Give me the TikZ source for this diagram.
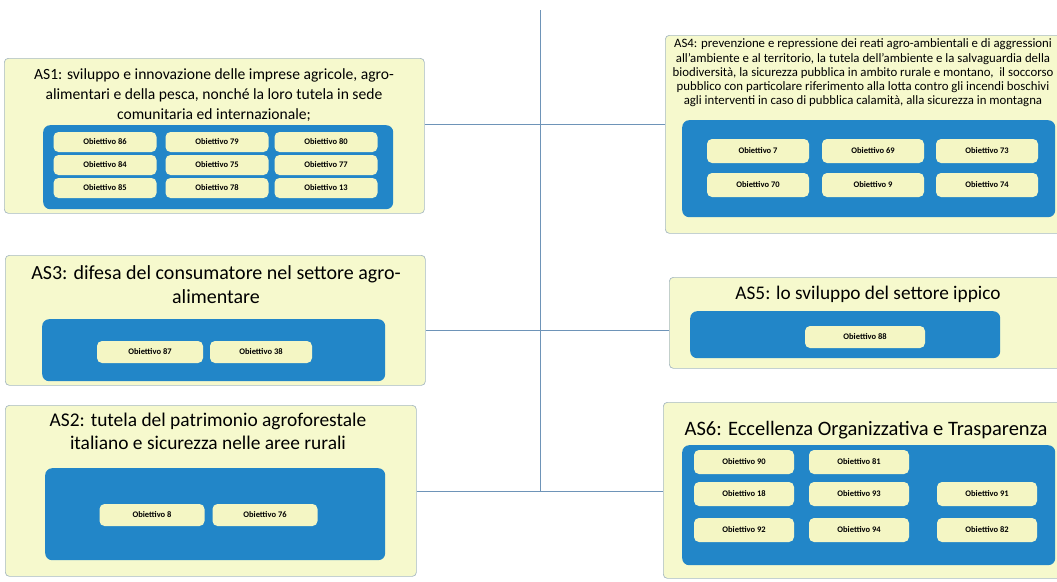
\documentclass[tikz,border=0pt]{standalone}
\usepackage{fontspec}
\setmainfont{Carlito}
\definecolor{boxfill}{HTML}{F6F9CD}
\definecolor{boxline}{HTML}{A7B9C2}
\definecolor{inblue}{HTML}{2286C8}
\definecolor{objfill}{HTML}{F4F6C4}
\definecolor{conn}{HTML}{6E94B8}
\tikzset{
  outer/.style={draw=boxline, fill=boxfill, line width=0.7pt, rounded corners=4pt, anchor=north west, inner sep=0pt},
  inner/.style={fill=inblue, rounded corners=7pt, anchor=north west, inner sep=0pt},
  obj/.style={fill=objfill, rounded corners=5pt, inner sep=0pt, font=\fontsize{8.5}{9}\selectfont\bfseries},
  ttl/.style={align=center, inner sep=0pt},
  link/.style={draw=conn, line width=0.8pt}
}
\begin{document}
\begin{tikzpicture}[x=1pt,y=-1pt]
\useasboundingbox (0,0) rectangle (1057,581);
% central spine
\coordinate (top) at (540,10);
\coordinate (bot) at (540,492);
\draw[link] (top) -- (bot);

% AS1
\node[outer, minimum width=420, minimum height=155] (as1) at (4,58) {};
\node[ttl, font=\fontsize{15.6}{20}\selectfont] (as1t) at (214,95) {AS1: sviluppo e innovazione delle imprese agricole, agro-\\alimentari e della pesca, nonché la loro tutela in sede\\comunitaria ed internazionale;};
\node[inner, minimum width=350, minimum height=84] (as1b) at (43,125) {};
\foreach \c/\r/\t in {105/142/86, 217/142/79, 326/142/80, 105/165/84, 217/165/75, 326/165/77, 105/188/85, 217/188/78, 326/188/13}
  \node[obj, minimum width=103, minimum height=20] (o\t) at (\c,\r) {Obiettivo \t};

% AS3
\node[outer, minimum width=420, minimum height=130] (as3) at (5,255) {};
\node[ttl, font=\fontsize{20}{24}\selectfont] (as3t) at (216,285) {AS3: difesa del consumatore nel settore agro-\\alimentare};
\node[inner, minimum width=343, minimum height=62] (as3b) at (42,319) {};
\node[obj, minimum width=106, minimum height=22] (o87) at (150,352) {Obiettivo 87};
\node[obj, minimum width=102, minimum height=22] (o38) at (261,352) {Obiettivo 38};

% AS2
\node[outer, minimum width=411, minimum height=171] (as2) at (5,405) {};
\node[ttl, font=\fontsize{19.4}{23}\selectfont] (as2t) at (208,431) {AS2: tutela del patrimonio agroforestale\\italiano e sicurezza nelle aree rurali};
\node[inner, minimum width=340, minimum height=92] (as2b) at (45,468) {};
\node[obj, minimum width=105, minimum height=22] (o8) at (152,515) {Obiettivo 8};
\node[obj, minimum width=105, minimum height=22] (o76) at (265,515) {Obiettivo 76};

% AS4
\node[outer, minimum width=397, minimum height=198] (as4) at (665,35) {};
\node[ttl, font=\fontsize{12.8}{14.2}\selectfont] (as4t) at (863,73) {AS4: prevenzione e repressione dei reati agro-ambientali e di aggressioni\\all'ambiente e al territorio, la tutela dell'ambiente e la salvaguardia della\\biodiversità, la sicurezza pubblica in ambito rurale e montano,\ \ il soccorso\\pubblico con particolare riferimento alla lotta contro gli incendi boschivi\\agli interventi in caso di pubblica calamità, alla sicurezza in montagna};
\node[inner, minimum width=373, minimum height=97] (as4b) at (682,120) {};
\foreach \c/\r/\t in {758/151/7, 873/151/69, 987/151/73, 758/185/70, 873/185/9, 987/185/74}
  \node[obj, minimum width=102, minimum height=24] (p\t) at (\c,\r) {Obiettivo \t};

% AS5
\node[outer, minimum width=395, minimum height=91] (as5) at (669,277) {};
\node[ttl, font=\fontsize{19.3}{22}\selectfont] (as5t) at (868,294) {AS5: lo sviluppo del settore ippico};
\node[inner, minimum width=310, minimum height=47] (as5b) at (690,311) {};
\node[obj, minimum width=120, minimum height=22] (o88) at (865,337) {Obiettivo 88};

% AS6
\node[outer, minimum width=399, minimum height=176] (as6) at (663,402) {};
\node[ttl, font=\fontsize{20.5}{22}\selectfont] (as6t) at (866,430) {AS6: Eccellenza Organizzativa e Trasparenza};
\node[inner, minimum width=373, minimum height=120] (as6b) at (682,445) {};
\foreach \c/\r/\t in {744/462/90, 859/462/81, 744/494/18, 859/494/93, 987/494/91, 744/530/92, 859/530/94, 987/530/82}
  \node[obj, minimum width=100, minimum height=24] (q\t) at (\c,\r) {Obiettivo \t};

% connectors
\coordinate (l1) at (0,124);
\coordinate (l2) at (0,330);
\coordinate (l3) at (0,491);
\draw[link] (as1.east |- l1) -- (as4.west |- l1);
\draw[link] (as3.east |- l2) -- (as5.west |- l2);
\draw[link] (as2.east |- l3) -- (as6.west |- l3);
\end{tikzpicture}
\end{document}
